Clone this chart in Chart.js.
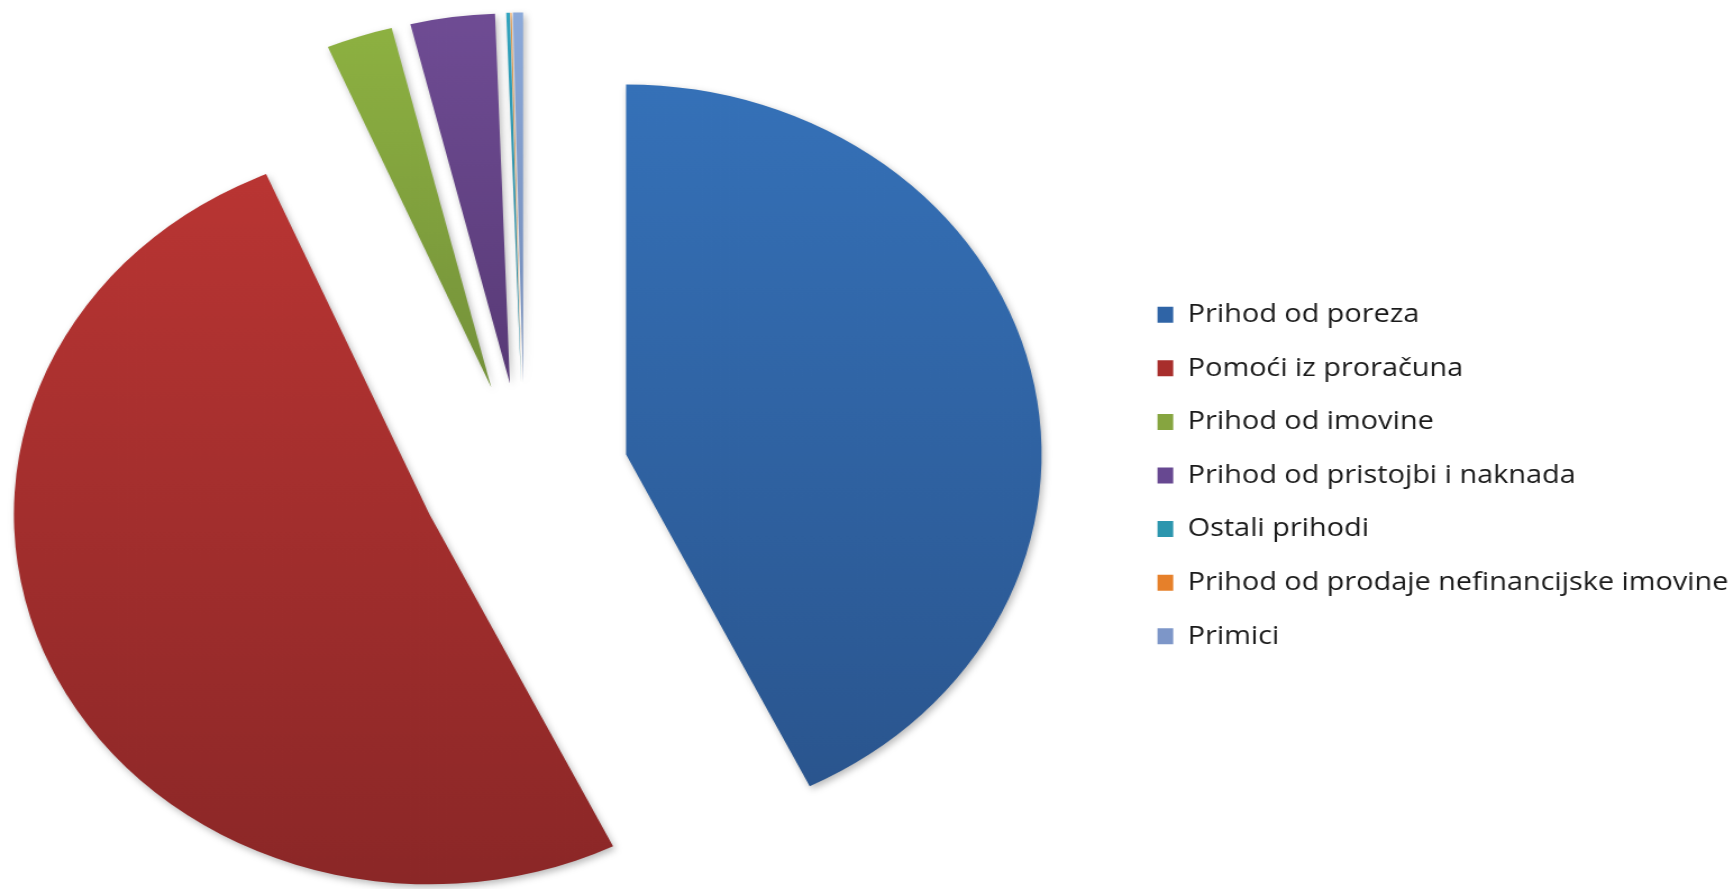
<!DOCTYPE html>
<html lang="hr">
<head>
<meta charset="UTF-8">
<meta name="viewport" content="width=device-width, initial-scale=1.0">
<title>Struktura prihoda</title>
<script src="https://cdn.jsdelivr.net/npm/chart.js"></script>
<style>
    html, body { margin: 0; padding: 0; background: #fff; overflow: hidden; }
    /* the original picture is stretched sideways: draw narrow, then widen.
       the canvas starts a little left of the window so the pie sits where it should */
    #wrap { position: relative; width: 1624px; height: 889px; transform: scaleX(1.1231) translateX(-70px); transform-origin: 0 0; }
</style>
</head>
<body>
<div id="wrap"><canvas id="prihodiChart"></canvas></div>

<script>
    // udio u ukupnim prihodima (%)
    const categories = [
        "Prihod od poreza",
        "Pomoći iz proračuna",
        "Prihod od imovine",
        "Prihod od pristojbi i naknada",
        "Ostali prihodi",
        "Prihod od prodaje nefinancijske imovine",
        "Primici"
    ];
    const shares = [42.72, 50.86, 2.58, 3.28, 0.14, 0.04, 0.39];

    // legend key colours, and the top / bottom of each slice's gradient
    const keyColors    = ["#2f64a6", "#a82e2c", "#86a540", "#674891", "#2c96ae", "#e6802a", "#7d96c8"];
    const topColors    = ["#3571b8", "#b93533", "#8db141", "#6f4c94", "#33a7c2", "#f59331", "#8caada"];
    const bottomColors = ["#2a558e", "#8b2727", "#74913a", "#583a76", "#278499", "#c87426", "#7088b5"];

    // pull every slice out of the pie, give it its own vertical gradient and a soft shadow
    const explodeSlices = {
        id: 'explodeSlices',
        afterDatasetsUpdate(chart, args, opts) {
            chart.getDatasetMeta(0).data.forEach(arc => {
                const mid = (arc.startAngle + arc.endAngle) / 2;
                arc.x += Math.cos(mid) * opts.distance;
                arc.y += Math.sin(mid) * opts.distance;
            });
        },
        beforeDatasetsDraw(chart) {
            const ctx = chart.ctx;
            chart.getDatasetMeta(0).data.forEach((arc, i) => {
                let top = arc.y, bottom = arc.y;
                for (let k = 0; k <= 60; k++) {
                    const a = arc.startAngle + (arc.endAngle - arc.startAngle) * k / 60;
                    const y = arc.y + Math.sin(a) * arc.outerRadius;
                    top = Math.min(top, y);
                    bottom = Math.max(bottom, y);
                }
                const g = ctx.createLinearGradient(0, top, 0, bottom);
                g.addColorStop(0, topColors[i]);
                g.addColorStop(1, bottomColors[i]);
                arc.options.backgroundColor = g;
            });
            ctx.save();
            ctx.shadowColor = 'rgba(0, 0, 0, 0.28)';
            ctx.shadowBlur = 7;
            ctx.shadowOffsetX = 2;
            ctx.shadowOffsetY = 3;
        },
        afterDatasetsDraw(chart) {
            chart.ctx.restore();
        }
    };

    new Chart(document.getElementById("prihodiChart"), {
        type: 'pie',
        data: {
            labels: categories,
            datasets: [{
                data: shares,
                backgroundColor: keyColors,
                borderWidth: 0,
                clip: false
            }]
        },
        options: {
            responsive: true,
            maintainAspectRatio: false,
            animation: false,
            events: [],
            radius: 370,
            layout: {
                padding: { top: 62, bottom: 0, left: 1, right: 5 }
            },
            plugins: {
                explodeSlices: { distance: 93 },
                tooltip: { enabled: false },
                legend: {
                    position: 'right',
                    labels: {
                        boxWidth: 14,
                        boxHeight: 16,
                        padding: 27.9,
                        color: '#1a1a1a',
                        font: { family: '"Open Sans", "Noto Sans", sans-serif', size: 25.7 }
                    }
                }
            }
        },
        plugins: [explodeSlices]
    });
</script>
</body>
</html>
